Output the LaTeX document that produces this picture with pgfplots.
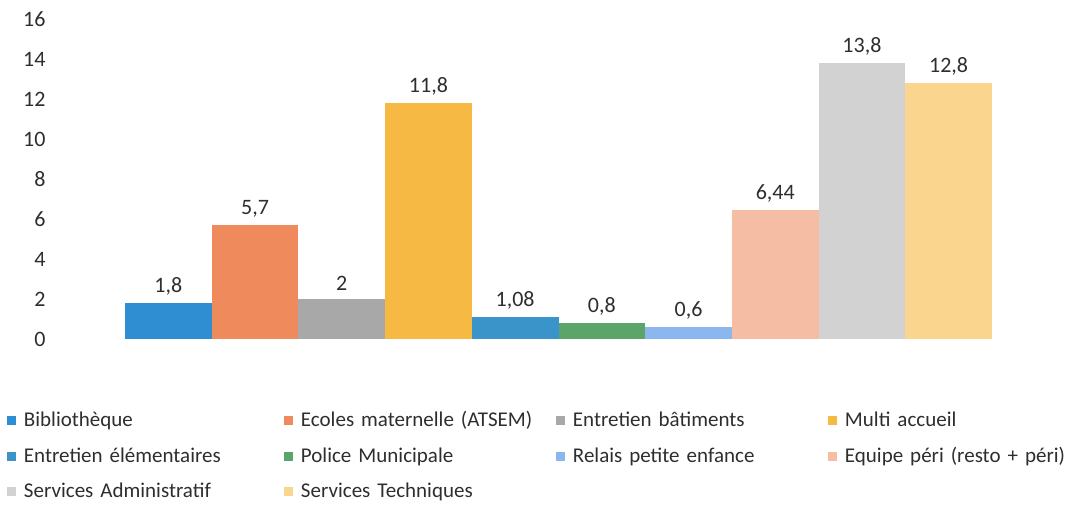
\documentclass[border=0pt]{standalone}
\usepackage{fontspec}
\setmainfont{Carlito}
\usepackage{pgfplots}
\pgfplotsset{compat=1.18}

\definecolor{cBib}{HTML}{2F8DD2}
\definecolor{cEco}{HTML}{EE8A5B}
\definecolor{cEnt}{HTML}{A8A8A8}
\definecolor{cMul}{HTML}{F6B943}
\definecolor{cEle}{HTML}{3B94C9}
\definecolor{cPol}{HTML}{5BA56A}
\definecolor{cRel}{HTML}{8CB7EE}
\definecolor{cEqu}{HTML}{F5BDA4}
\definecolor{cAdm}{HTML}{D2D2D2}
\definecolor{cTec}{HTML}{F9D58E}
\definecolor{labgray}{HTML}{2E2E2E}

\begin{document}
\begin{tikzpicture}
\useasboundingbox (0,0) rectangle (1069pt,506pt);
\begin{axis}[
  at={(52pt,167pt)}, anchor=south west,
  scale only axis, width=998pt, height=320pt,
  xmin=-1.342, xmax=10.169, ymin=0, ymax=16,
  ytick={0,2,...,16}, xtick=\empty,
  axis line style={draw=none}, major tick length=0pt,
  ybar, bar width=1, bar shift=0pt,
  /pgf/number format/assume math mode=true,
  /pgf/number format/use comma,
  /pgf/number format/precision=2,
  yticklabel style={font=\fontsize{22}{26}\selectfont, text=labgray, xshift=-3pt},
  nodes near coords,
  nodes near coords style={font=\fontsize{22}{26}\selectfont, text=labgray, yshift=4.5pt},
  legend columns=4,
  legend cell align=left,
  legend style={at={(-0.0451,-0.228)}, anchor=north west, draw=none, fill=none,
    inner sep=0pt, outer sep=0pt, font=\fontsize{21}{25}\selectfont, text=labgray,
    row sep=15.5pt,
    nodes={inner sep=0pt, text height=15pt, text depth=5pt},
    /tikz/every odd column/.style={column sep=8pt}},
  legend image code/.code={\fill[#1] (0pt,-3.5pt) rectangle (9pt,5.5pt);},
]
\addplot[fill=cBib, draw=none] coordinates {(0,1.8)};
\addlegendentry[text width=260pt]{Bibliothèque}
\addplot[fill=cEco, draw=none] coordinates {(1,5.7)};
\addlegendentry[text width=255pt]{Ecoles maternelle (ATSEM)}
\addplot[fill=cEnt, draw=none] coordinates {(2,2)};
\addlegendentry[text width=255pt]{Entretien bâtiments}
\addplot[fill=cMul, draw=none] coordinates {(3,11.8)};
\addlegendentry[text width=245pt]{Multi accueil}
\addplot[fill=cEle, draw=none] coordinates {(4,1.08)};
\addlegendentry[text width=260pt]{Entretien élémentaires}
\addplot[fill=cPol, draw=none] coordinates {(5,0.8)};
\addlegendentry[text width=255pt]{Police Municipale}
\addplot[fill=cRel, draw=none] coordinates {(6,0.6)};
\addlegendentry[text width=255pt]{Relais petite enfance}
\addplot[fill=cEqu, draw=none] coordinates {(7,6.44)};
\addlegendentry[text width=245pt]{Equipe péri (resto + péri)}
\addplot[fill=cAdm, draw=none] coordinates {(8,13.8)};
\addlegendentry[text width=260pt]{Services Administratif}
\addplot[fill=cTec, draw=none] coordinates {(9,12.8)};
\addlegendentry[text width=255pt]{Services Techniques}
\end{axis}
\end{tikzpicture}
\end{document}
